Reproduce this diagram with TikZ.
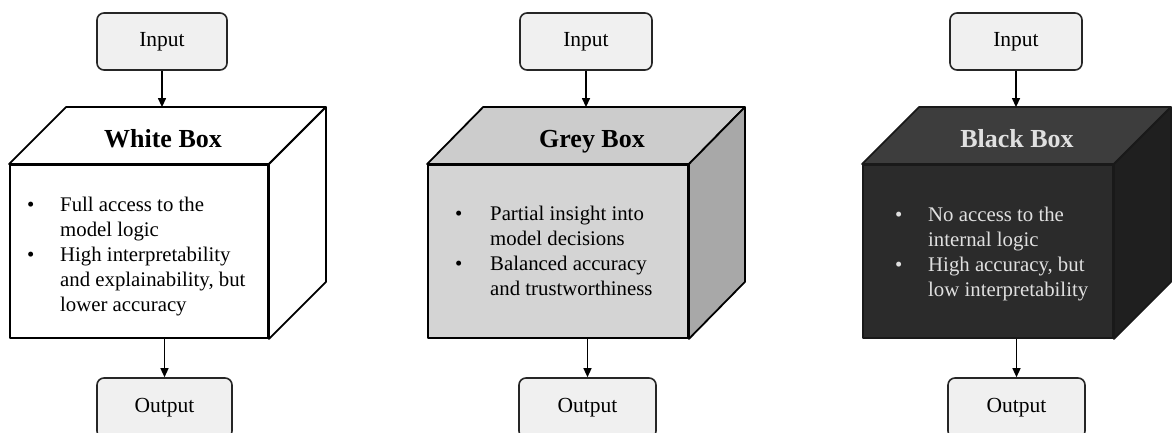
\documentclass[tikz,border=0pt]{standalone}
\usepackage{fontspec}
\setmainfont{Liberation Serif}
\usetikzlibrary{arrows.meta,calc}
\definecolor{ioFill}{gray}{0.94}
\definecolor{greyFront}{gray}{0.83}
\definecolor{greyTop}{gray}{0.80}
\definecolor{greySide}{gray}{0.66}
\definecolor{blackFront}{gray}{0.17}
\definecolor{blackTop}{gray}{0.24}
\definecolor{blackSide}{gray}{0.12}
\begin{document}
\begin{tikzpicture}[x=1pt,y=-1pt,
  io/.style={draw=black!85, line width=1.6pt, rounded corners=7pt, fill=ioFill,
    minimum height=57pt, inner sep=0pt, font=\fontsize{21.5}{25}\selectfont},
  flow/.style={-{Triangle[length=9pt,width=8pt]}, line width=1.3pt},
  face/.style={minimum width=258pt, minimum height=173pt, inner sep=0pt, draw=black, line width=1.8pt, line join=round},
  title/.style={font=\fontsize{26}{29}\selectfont\bfseries, inner sep=0pt, anchor=base},
  body/.style={anchor=north west, inner sep=0pt, align=left, font=\fontsize{20.8}{25}\selectfont}
]
\useasboundingbox (0,0) rectangle (1172,433);
\fill[white] (0,0) rectangle (1172,433);

% ---------- Panel 1: White Box ----------
\node[io, minimum width=130pt] (in1) at (162,41.5) {Input};
\node[face, fill=white] (f1) at (139,251.5) {};
\draw[line width=1.8pt, line join=round, fill=white] (f1.north west) -- ++(57,-57) -- ($(f1.north east)+(57,-57)$) -- (f1.north east) -- cycle;
\draw[line width=1.8pt, line join=round, fill=white] (f1.north east) -- ++(57,-57) -- ($(f1.south east)+(57,-57)$) -- (f1.south east) -- cycle;
\coordinate (b1) at ($(f1.north west)+(57,-57)$);
\node[title] (h1) at (163,147) {White Box};
\node[body] (t1) at (27,194) {\begin{tabular}{@{}p{33pt}@{}l@{}}
\textbullet & Full access to the\\
 & model logic\\
\textbullet & High interpretability\\
 & and explainability, but\\
 & lower accuracy
\end{tabular}};
\node[io, minimum width=135pt, minimum height=60pt] (out1) at (164.5,408) {Output};
\draw[flow] (in1.south) -- (in1.south |- b1);
\draw[flow] (out1.north |- f1.south) -- (out1.north);

% ---------- Panel 2: Grey Box ----------
\node[io, minimum width=132pt] (in2) at (586,41.5) {Input};
\node[face, fill=greyFront, minimum width=260pt] (f2) at (558,251.5) {};
\draw[line width=1.8pt, line join=round, fill=greyTop] (f2.north west) -- ++(56,-57) -- ($(f2.north east)+(56,-57)$) -- (f2.north east) -- cycle;
\draw[line width=1.8pt, line join=round, fill=greySide] (f2.north east) -- ++(56,-57) -- ($(f2.south east)+(56,-57)$) -- (f2.south east) -- cycle;
\coordinate (b2) at ($(f2.north west)+(56,-57)$);
\node[title] (h2) at (592,147) {Grey Box};
\node[body] (t2) at (455,203) {\begin{tabular}{@{}p{35pt}@{}l@{}}
\textbullet & Partial insight into\\
 & model decisions\\
\textbullet & Balanced accuracy\\
 & and trustworthiness
\end{tabular}};
\node[io, minimum width=137pt, minimum height=60pt] (out2) at (587.5,408) {Output};
\draw[flow] (in2.south) -- (in2.south |- b2);
\draw[flow] (out2.north |- f2.south) -- (out2.north);

% ---------- Panel 3: Black Box ----------
\node[io, minimum width=132pt] (in3) at (1016,41.5) {Input};
\node[face, fill=blackFront, minimum width=250pt, draw=black!90] (f3) at (988,251.5) {};
\draw[line width=1.8pt, line join=round, draw=black!90, fill=blackTop] (f3.north west) -- ++(57,-57) -- ($(f3.north east)+(57,-57)$) -- (f3.north east) -- cycle;
\draw[line width=1.8pt, line join=round, draw=black!90, fill=blackSide] (f3.north east) -- ++(57,-57) -- ($(f3.south east)+(57,-57)$) -- (f3.south east) -- cycle;
\coordinate (b3) at ($(f3.north west)+(57,-57)$);
\node[title, text=white!88!black] (h3) at (1017,147) {Black Box};
\node[body, text=white!88!black] (t3) at (895,204) {\begin{tabular}{@{}p{33pt}@{}l@{}}
\textbullet & No access to the\\
 & internal logic\\
\textbullet & High accuracy, but\\
 & low interpretability
\end{tabular}};
\node[io, minimum width=137pt, minimum height=60pt] (out3) at (1016.5,408) {Output};
\draw[flow] (in3.south) -- (in3.south |- b3);
\draw[flow] (out3.north |- f3.south) -- (out3.north);
\end{tikzpicture}
\end{document}
